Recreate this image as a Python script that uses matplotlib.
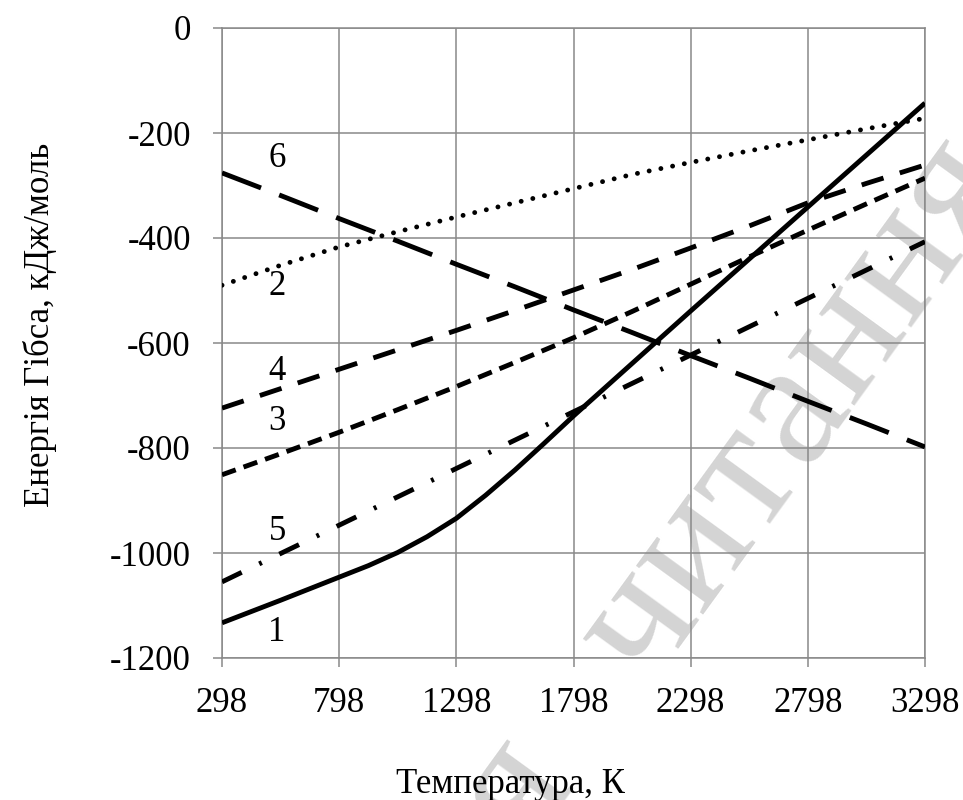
import matplotlib.pyplot as plt

# ---------------------------------------------------------------------------
# Data
# ---------------------------------------------------------------------------

temps = [298, 548, 798, 1048, 1298, 1548, 1798, 2048, 2298, 2548, 2798, 3048, 3298]

# curve 1 is curved between ~800 and ~1800 K, so it gets denser readings
temps1 = [298, 548, 798, 923, 1048, 1173, 1298, 1423, 1548, 1673, 1798,
          2048, 2298, 2548, 2798, 3048, 3298]
g1 = [-1133, -1090, -1046, -1024, -999, -969, -934, -890, -842, -791, -739,
      -639, -539, -440, -341, -242, -143]

g2 = [-490, -452, -417, -388, -360, -333, -306, -279, -256, -234, -213, -192, -172]
g3 = [-851, -811, -770, -727, -683, -637, -590, -540, -488, -436, -385, -335, -286]
g4 = [-724, -687, -650, -613, -576, -538, -499, -460, -419, -377, -333, -296, -261]
g5 = [-1055, -1001, -947, -893, -839, -785, -731, -677, -623, -569, -515, -461, -407]
g6 = [-276, -319, -363, -406, -450, -493, -537, -580, -624, -667, -711, -754, -798]

curve_names = ['1', '2', '3', '4', '5', '6']
label_x = [533, 533, 533, 533, 533, 533]
label_y = [-1152, -493, -750, -655, -960, -248]

x_ticks = [298, 798, 1298, 1798, 2298, 2798, 3298]
y_ticks = [0, -200, -400, -600, -800, -1000, -1200]

# ---------------------------------------------------------------------------
# Plot
# ---------------------------------------------------------------------------

serif = 'Liberation Serif'
plt.rcParams['font.family'] = [serif, 'DejaVu Serif']

W, H = 963, 800
fig = plt.figure(figsize=(W / 100, H / 100), dpi=100)
ax = fig.add_axes([222 / W, 1 - 658 / H, 703 / W, 630 / H])
ax.set_facecolor('none')

# watermark ("Тільки для читання"), behind everything
wm = dict(fontsize=130, color='#d4d4d4', rotation=54,
          rotation_mode='anchor', va='baseline', zorder=-5)
fig.text(648 / W, 1 - 688 / H, 'читання', ha='left', **wm)
fig.text(577 / W, 1 - 785 / H, 'Тільки для', ha='right', **wm)

lw = 3.5
ax.plot(temps1, g1, color='black', lw=lw, solid_capstyle='butt',
        solid_joinstyle='round', zorder=3)
ax.plot(temps, g2, color='black', lw=lw, linestyle=(0, (0.01, 2.45)),
        dash_capstyle='round', zorder=3)
ax.plot(temps, g3, color='black', lw=lw, linestyle=(0, (3.0, 1.7)),
        dash_capstyle='butt', zorder=3)
ax.plot(temps, g4, color='black', lw=lw, linestyle=(0, (4.7, 3.5)),
        dash_capstyle='butt', zorder=3)
ax.plot(temps, g5, color='black', lw=lw, linestyle=(0, (4.5, 4.0, 0.6, 4.0)),
        dash_capstyle='butt', zorder=3)
ax.plot(temps, g6, color='black', lw=lw, linestyle=(0, (8.6, 4.0)),
        dash_capstyle='butt', zorder=3)

for name, x, y in zip(curve_names, label_x, label_y):
    ax.text(x, y, name, fontsize=25, ha='center', va='center', zorder=4)

ax.set_xlim(298, 3298)
ax.set_ylim(-1200, 0)
ax.set_xticks(x_ticks)
ax.set_yticks(y_ticks)
ax.set_xticklabels([str(v) for v in x_ticks])
ax.set_yticklabels([str(v) for v in y_ticks])

grid_c = '#898989'
ax.grid(True, color=grid_c, linewidth=1.1, zorder=0)
for s in ax.spines.values():
    s.set_color(grid_c)
    s.set_linewidth(1.1)
ax.tick_params(axis='both', colors=grid_c, length=6.5, width=1.1,
               labelcolor='black', labelsize=25)
ax.tick_params(axis='y', pad=16)
ax.tick_params(axis='x', pad=14.5)

fig.text(510 / W, 1 - 793 / H, 'Температура, К', fontsize=25,
         ha='center', va='baseline')
fig.text(40 / W, 1 - 325 / H, 'Енергія Гібса, кДж/моль', fontsize=25,
         ha='center', va='center', rotation=90)

fig.savefig('out.png', dpi=100)
